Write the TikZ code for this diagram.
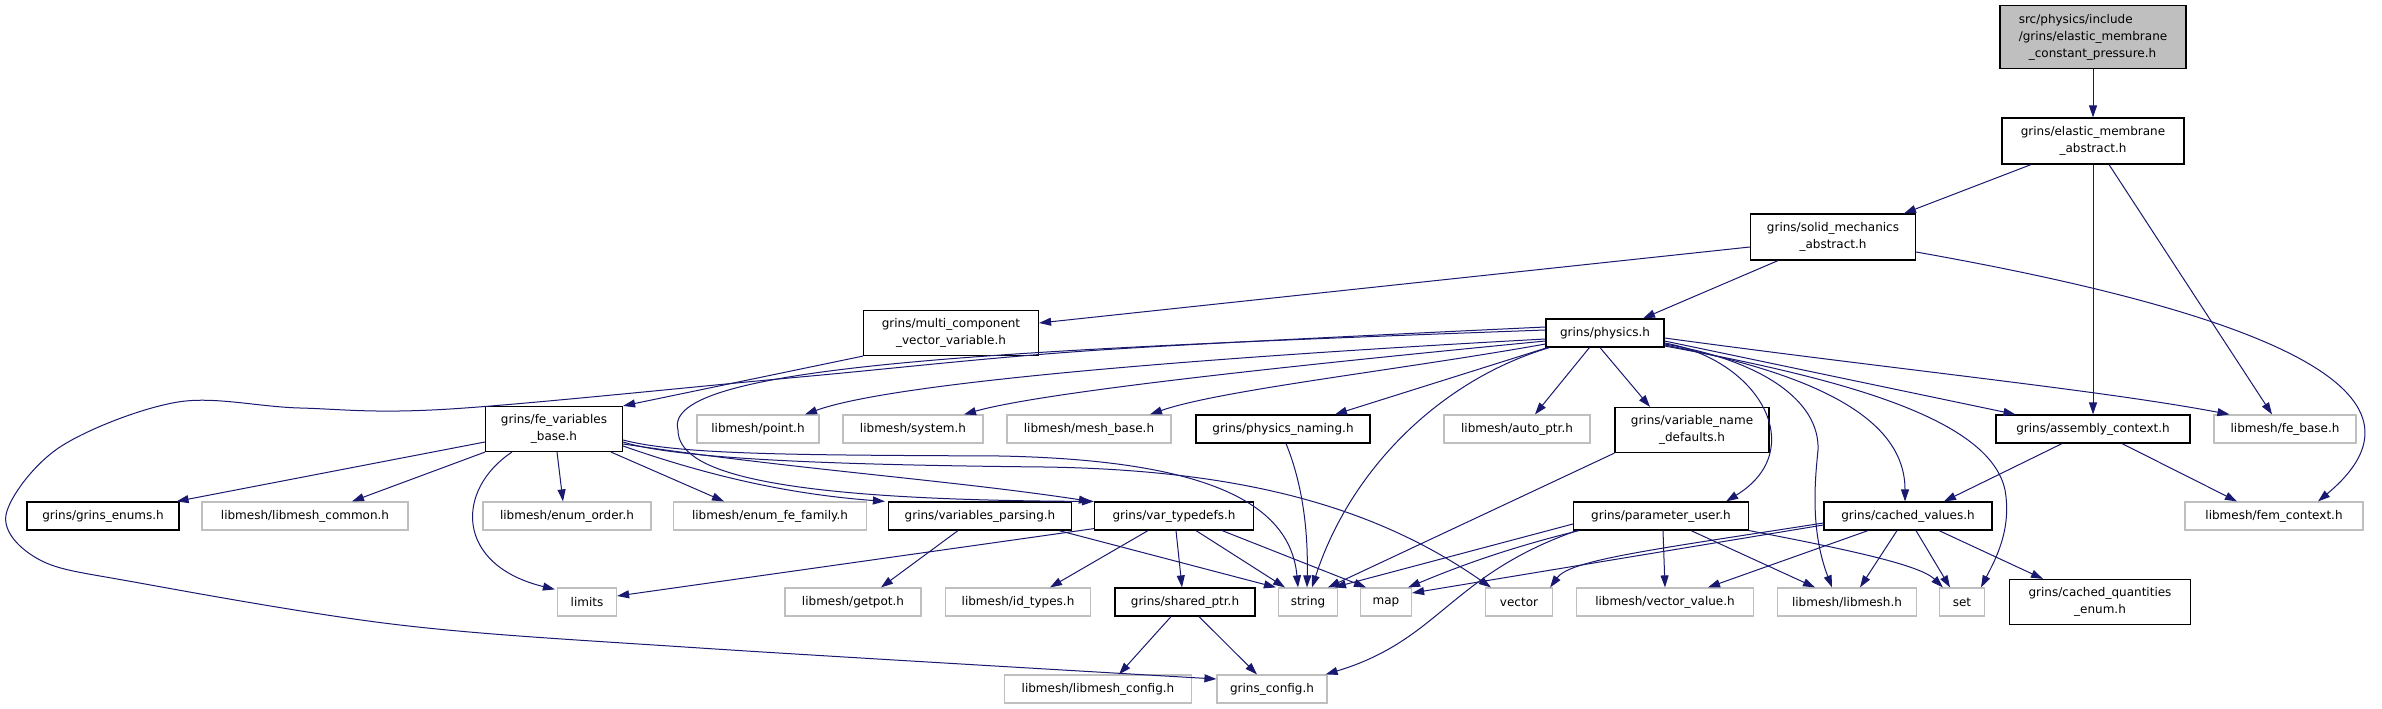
\documentclass[tikz,border=0pt]{standalone}
\usepackage{fontspec}
\setmainfont{DejaVu Sans}
\usetikzlibrary{arrows.meta,calc}
\definecolor{edgec}{HTML}{191970}
\definecolor{gray75}{HTML}{BFBFBF}
\begin{document}
\begin{tikzpicture}[x=1pt,y=-1pt,
  nb/.style={inner sep=0pt, minimum height=28pt, align=center, font=\fontsize{12}{17}\selectfont, line width=1.2pt, fill=white},
  doc/.style={nb, draw=black},
  ext/.style={nb, draw=gray75},
  e/.style={draw=edgec, line width=1pt, -{Triangle[length=12pt,width=8pt]}}]
\useasboundingbox[fill=white] (0,0) rectangle (2382,709);

% nodes
\node[doc, fill=gray75, minimum width=186pt, minimum height=63pt, align=left] (top) at (2093,37) {src/physics/include\\/grins/elastic\_membrane\\\hspace*{10pt}\_constant\_pressure.h};
\node[doc, minimum width=182pt, minimum height=46pt] (ema) at (2093,141) {grins/elastic\_membrane\\\_abstract.h};
\node[doc, minimum width=165pt, minimum height=46pt] (sma) at (1833,237) {grins/solid\_mechanics\\\_abstract.h};
\node[doc, minimum width=175pt, minimum height=45pt] (mcv) at (951,333) {grins/multi\_component\\\_vector\_variable.h};
\node[doc, minimum width=118pt] (phys) at (1605,333) {grins/physics.h};
\node[doc, minimum width=137pt, minimum height=45pt] (feb) at (554,429) {grins/fe\_variables\\\_base.h};
\node[ext, minimum width=122pt] (point) at (758,429) {libmesh/point.h};
\node[ext, minimum width=140pt] (system) at (913,429) {libmesh/system.h};
\node[ext, minimum width=164pt] (meshbase) at (1089,429) {libmesh/mesh\_base.h};
\node[doc, minimum width=174pt] (pnaming) at (1283,429) {grins/physics\_naming.h};
\node[ext, minimum width=146pt] (autoptr) at (1517,429) {libmesh/auto\_ptr.h};
\node[doc, minimum width=154pt, minimum height=45pt] (vnd) at (1692,430) {grins/variable\_name\\\_defaults.h};
\node[doc, minimum width=194pt] (asm) at (2093,429) {grins/assembly\_context.h};
\node[ext, minimum width=142pt] (febase) at (2285,429) {libmesh/fe\_base.h};
\node[doc, minimum width=152pt] (genums) at (103,516) {grins/grins\_enums.h};
\node[ext, minimum width=206pt] (lmcommon) at (305,516) {libmesh/libmesh\_common.h};
\node[ext, minimum width=168pt] (enumorder) at (567,516) {libmesh/enum\_order.h};
\node[ext, minimum width=193pt] (enumfe) at (770,516) {libmesh/enum\_fe\_family.h};
\node[doc, minimum width=183pt] (vparse) at (980,516) {grins/variables\_parsing.h};
\node[doc, minimum width=159pt] (vtd) at (1174,516) {grins/var\_typedefs.h};
\node[doc, minimum width=175pt] (puser) at (1661,516) {grins/parameter\_user.h};
\node[doc, minimum width=168pt] (cvals) at (1908,516) {grins/cached\_values.h};
\node[ext, minimum width=178pt] (femctx) at (2274,516) {libmesh/fem\_context.h};
\node[ext, minimum width=59pt] (limits) at (587,602) {limits};
\node[ext, minimum width=136pt] (getpot) at (853,602) {libmesh/getpot.h};
\node[ext, minimum width=145pt] (idtypes) at (1018,602) {libmesh/id\_types.h};
\node[doc, minimum width=140pt] (sptr) at (1185,602) {grins/shared\_ptr.h};
\node[ext, minimum width=59pt] (string) at (1308,602) {string};
\node[ext, minimum width=51pt] (map) at (1386,602) {map};
\node[ext, minimum width=67pt] (vector) at (1519,602) {vector};
\node[ext, minimum width=177pt] (vvalue) at (1665,602) {libmesh/vector\_value.h};
\node[ext, minimum width=139pt] (libmesh) at (1847,602) {libmesh/libmesh.h};
\node[ext, minimum width=45pt] (set) at (1962,602) {set};
\node[doc, minimum width=181pt, minimum height=45pt] (cqe) at (2100,602) {grins/cached\_quantities\\\_enum.h};
\node[ext, minimum width=187pt] (lmconfig) at (1098,689) {libmesh/libmesh\_config.h};
\node[ext, minimum width=110pt] (gconfig) at (1272,689) {grins\_config.h};

% edges
\draw[e] (top) -- (ema);
\draw[e] ($(ema.south)+(-62,0)$) -- ($(sma.north)+(71,0)$);
\draw[e] (ema.south) -- (asm.north);
\draw[e] ($(ema.south)+(16,0)$) -- ($(febase.north)+(-13,0)$);
\draw[e] ($(sma.west)+(0,10)$) -- ($(mcv.east)+(0,-10)$);
\draw[e] ($(sma.south)+(-55,0)$) -- ($(phys.north)+(38,0)$);
\draw[e] ($(sma.east)+(0,15)$) .. controls (2300,320) and (2440,400) .. ($(femctx.north)+(44,0)$);
\draw[e] (mcv.south west) -- (feb.north east);

% physics.h
\draw[e] ($(phys.west)+(0,6)$) .. controls (1250,355) and (900,380) .. ($(point.north)+(47,0)$);
\draw[e] ($(phys.west)+(0,8)$) .. controls (1350,360) and (1050,390) .. ($(system.north)+(51,0)$);
\draw[e] ($(phys.west)+(0,11)$) .. controls (1400,370) and (1220,390) .. ($(meshbase.north)+(61,0)$);
\draw[e] ($(phys.south west)+(2,0)$) -- ($(pnaming.north)+(52,0)$);
\draw[e] ($(phys.south west)+(44,0)$) -- ($(autoptr.north)+(18,0)$);
\draw[e] ($(phys.south)+(-5,0)$) -- ($(vnd.north)+(-42,0)$);
\draw[e] ($(phys.south west)+(4,0)$) .. controls (1440,380) and (1350,470) .. ($(string.north)+(4,0)$);
\draw[e] ($(phys.east)+(0,8)$) -- ($(asm.north west)+(20,0)$);
\draw[e] ($(phys.east)+(0,5)$) .. controls (1900,370) and (2100,390) .. ($(febase.north west)+(16,0)$);
\draw[e] ($(phys.east)+(0,10)$) .. controls (1760,360) and (1810,450) .. ($(puser.north east)+(-23,0)$);
\draw[e] ($(phys.east)+(0,11)$) .. controls (1760,360) and (1820,400) .. (1818,450) .. controls (1815,480) and (1810,530) .. ($(libmesh.north)+(-15,0)$);
\draw[e] ($(phys.east)+(0,12)$) .. controls (1820,375) and (1905,420) .. ($(cvals.north)+(-3,0)$);
\draw[e] ($(phys.east)+(0,13)$) .. controls (1850,380) and (1990,420) .. (2005,490) .. controls (2012,530) and (1995,560) .. ($(set.north)+(19,0)$);
\draw[e] ($(phys.west)+(0,-3)$) .. controls (1000,350) and (660,365) .. (678,430) .. controls (678,470) and (760,500) .. (vtd.north west);
\draw[e] plot[smooth, tension=0.55] coordinates {($(phys.west)+(0,-6)$) (1100,350) (800,377) (450,409) (300,408) (178,402) (60,447) (6,515) (40,560) (134,582) (400,625) (700,648) ($(gconfig.west)+(0,-10)$)};

\draw[e] (vnd.south west) -- ($(string.north)+(20,0)$);
\draw[e] ($(pnaming.south)+(3,0)$) .. controls (1305,490) and (1308,540) .. ($(string.north)+(-1,0)$);

% var_typedefs / variables_parsing / shared_ptr
\draw[e] ($(vtd.south)+(22,0)$) -- ($(string.north)+(-23,0)$);
\draw[e] ($(vtd.south east)+(-32,0)$) -- ($(map.north)+(-20,0)$);
\draw[e] ($(vtd.south)+(-26,0)$) -- ($(idtypes.north)+(32,0)$);
\draw[e] ($(vtd.south)+(2,0)$) -- ($(sptr.north)+(-3,0)$);
\draw[e] ($(vtd.south west)+(0,-2)$) -- ($(limits.east)+(0,-6)$);
\draw[e] ($(vparse.south)+(-22,0)$) -- ($(getpot.north)+(28,0)$);
\draw[e] ($(vparse.south)+(79,0)$) -- ($(string.north west)+(-2,0)$);
\draw[e] ($(sptr.south)+(-14,0)$) -- ($(lmconfig.north)+(21,0)$);
\draw[e] ($(sptr.south)+(14,0)$) -- ($(gconfig.north)+(-15,0)$);

% parameter_user
\draw[e] ($(puser.west)+(0,8)$) -- ($(string.north)+(26,0)$);
\draw[e] ($(puser.south west)+(6,0)$) .. controls (1500,550) and (1450,570) .. ($(map.north east)+(-4,0)$);
\draw[e] ($(puser.south west)+(4,0)$) .. controls (1450,575) and (1440,640) .. ($(gconfig.north east)+(-2,0)$);
\draw[e] ($(puser.south)+(2,0)$) -- (vvalue.north);
\draw[e] ($(puser.south)+(30,0)$) -- ($(libmesh.north)+(-32,0)$);
\draw[e] (puser.south east) .. controls (1850,550) and (1920,565) .. ($(set.north west)+(4,0)$);

% cached_values
\draw[e] ($(cvals.west)+(0,7)$) .. controls (1650,550) and (1570,560) .. ($(vector.north east)+(-3,0)$);
\draw[e] ($(cvals.west)+(0,9)$) -- ($(map.east)+(0,-9)$);
\draw[e] ($(cvals.south)+(-40,0)$) -- ($(vvalue.north)+(43,0)$);
\draw[e] ($(cvals.south)+(-11,0)$) -- ($(libmesh.north)+(13,0)$);
\draw[e] ($(cvals.south)+(8,0)$) -- ($(set.north)+(-12,0)$);
\draw[e] ($(cvals.south)+(31,0)$) -- ($(cqe.north)+(-57,0)$);

% assembly_context
\draw[e] ($(asm.south)+(-31,0)$) -- ($(cvals.north)+(36,0)$);
\draw[e] ($(asm.south)+(29,0)$) -- ($(femctx.north)+(-37,0)$);

% fe_variables_base
\draw[e] ($(feb.west)+(0,13)$) -- ($(genums.north east)+(-3,0)$);
\draw[e] (feb.south west) -- ($(lmcommon.north)+(47,0)$);
\draw[e] ($(feb.south)+(3,0)$) -- ($(enumorder.north)+(-4,0)$);
\draw[e] ($(feb.south east)+(-12,0)$) -- ($(enumfe.north)+(-46,0)$);
\draw[e] ($(feb.south west)+(27,0)$) .. controls (455,490) and (455,565) .. ($(limits.north west)+(-2,2)$);
\draw[e] ($(feb.east)+(0,17)$) .. controls (720,480) and (800,495) .. ($(vparse.north west)+(-3,0)$);
\draw[e] ($(feb.east)+(0,15)$) .. controls (800,470) and (950,480) .. ($(vtd.north west)+(-3,0)$);
\draw[e] ($(feb.east)+(0,11)$) .. controls (680,455) and (800,455) .. (1000,456) .. controls (1200,460) and (1290,500) .. ($(string.north)+(-10,0)$);
\draw[e] ($(feb.east)+(0,13)$) .. controls (680,460) and (850,465) .. (1044,467) .. controls (1250,470) and (1380,510) .. ($(vector.north west)+(6,0)$);
\end{tikzpicture}
\end{document}
